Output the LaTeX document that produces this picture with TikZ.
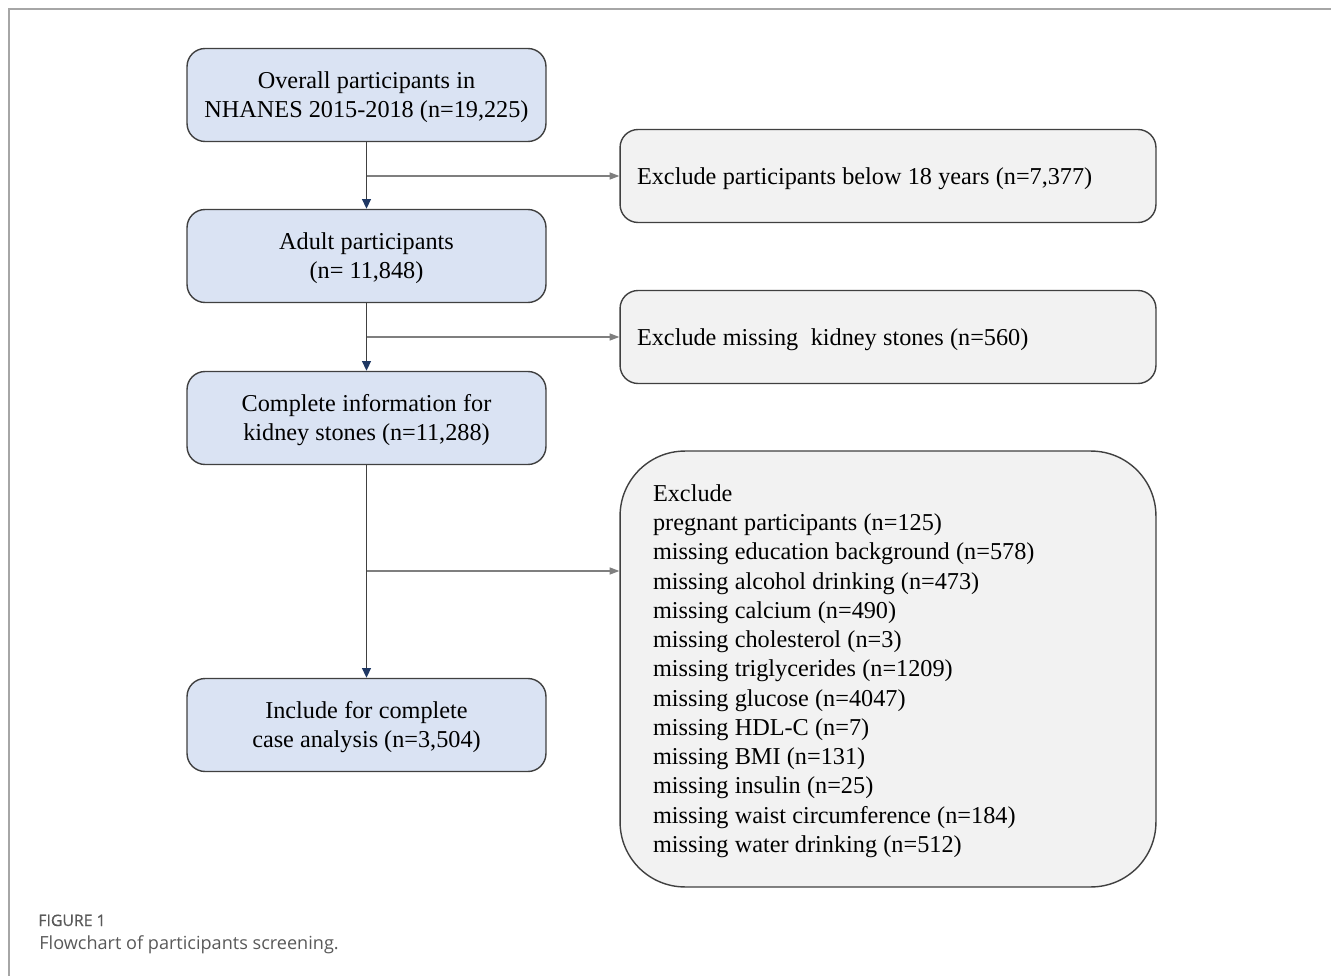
\documentclass[tikz,border=0pt]{standalone}
\usepackage{fontspec}
\setmainfont{Liberation Serif}
\newfontfamily\capfont{Open Sans}
\usetikzlibrary{arrows.meta}
\definecolor{bluefill}{HTML}{DAE3F3}
\definecolor{grayfill}{HTML}{F2F2F2}
\definecolor{edgecol}{HTML}{404040}
\definecolor{navycol}{HTML}{1F3864}
\definecolor{hlinecol}{HTML}{7F7F7F}
\definecolor{framecol}{HTML}{A6A6A6}
\definecolor{captext}{HTML}{595959}
\newlength{\tightsp}
\newcommand{\tstrut}[1][12pt]{\setlength{\tightsp}{0.26em}\spaceskip=\tightsp\relax\rule{0pt}{#1}}
\tikzset{
  boxfont/.style={font=\fontsize{13.8}{16.65}\selectfont},
  mainbox/.style={boxfont, draw=edgecol, line width=0.8pt, fill=bluefill, rounded corners=0.36cm,
    minimum width=7.18cm, minimum height=1.86cm, align=center, inner sep=0pt},
  sidebox/.style={boxfont, draw=edgecol, line width=0.8pt, fill=grayfill, rounded corners=0.36cm,
    minimum width=10.72cm, minimum height=1.86cm, text width=10.04cm, inner xsep=0.34cm, inner ysep=0pt, align=left},
  bigbox/.style={boxfont, draw=edgecol, line width=0.8pt, fill=grayfill, rounded corners=1.3cm,
    minimum width=10.72cm, minimum height=8.72cm, text width=9.4cm, inner xsep=0.66cm, inner ysep=0pt, align=left},
  vline/.style={draw=edgecol, line width=0.8pt, -{Triangle[length=5.5pt,width=5pt,color=navycol]}},
  hline/.style={draw=hlinecol, line width=0.7pt, -{Triangle[length=5.5pt,width=4pt,color=hlinecol]}},
}
\begin{document}
\begin{tikzpicture}[x=0.02cm,y=-0.02cm]
\useasboundingbox (0,0) rectangle (1331,976);
\draw[framecol, line width=0.8pt] (9,976) -- (9,9) -- (1331,9);

\node[mainbox] (b1) at (366.5,95) {\tstrut Overall participants in\\NHANES 2015-2018 (n=19,225)};
\node[mainbox] (b2) at (366.5,256) {\tstrut Adult participants\\(n= 11,848)};
\node[mainbox] (b3) at (366.5,418) {\tstrut Complete information for\\kidney stones (n=11,288)};
\node[mainbox] (b4) at (366.5,725) {\tstrut Include for complete\\case analysis (n=3,504)};

\node[sidebox] (r1) at (888,176) {\tstrut[12.5pt]Exclude participants below 18 years (n=7,377)};
\node[sidebox] (r2) at (888,337) {\tstrut[12.5pt]Exclude missing\ \ kidney stones (n=560)};
\node[bigbox] (r3) at (888,669) {\tstrut Exclude\\
pregnant participants (n=125)\\
missing education background (n=578)\\
missing alcohol drinking (n=473)\\
missing calcium (n=490)\\
missing cholesterol (n=3)\\
missing triglycerides (n=1209)\\
missing glucose (n=4047)\\
missing HDL-C (n=7)\\
missing BMI (n=131)\\
missing insulin (n=25)\\
missing waist circumference (n=184)\\
missing water drinking (n=512)};

\draw[vline] (b1.south) -- (b2.north);
\draw[vline] (b2.south) -- (b3.north);
\draw[vline] (b3.south) -- (b4.north);

\draw[hline] (b1.south |- r1.west) -- (r1.west);
\draw[hline] (b2.south |- r2.west) -- (r2.west);
\coordinate (j3) at (366.5,571);
\draw[hline] (j3) -- (j3 -| r3.west);

\node[anchor=base west, inner sep=0pt, text=captext, font=\capfont\fontsize{9.0}{11}\selectfont] (fig) at (38,926) {\addfontfeature{FakeBold=0.5}FIGURE 1};
\node[anchor=base west, inner sep=0pt, text=captext, font=\capfont\fontsize{10.3}{12}\selectfont] (cap) at (39,949) {Flowchart of participants screening.};
\end{tikzpicture}
\end{document}
